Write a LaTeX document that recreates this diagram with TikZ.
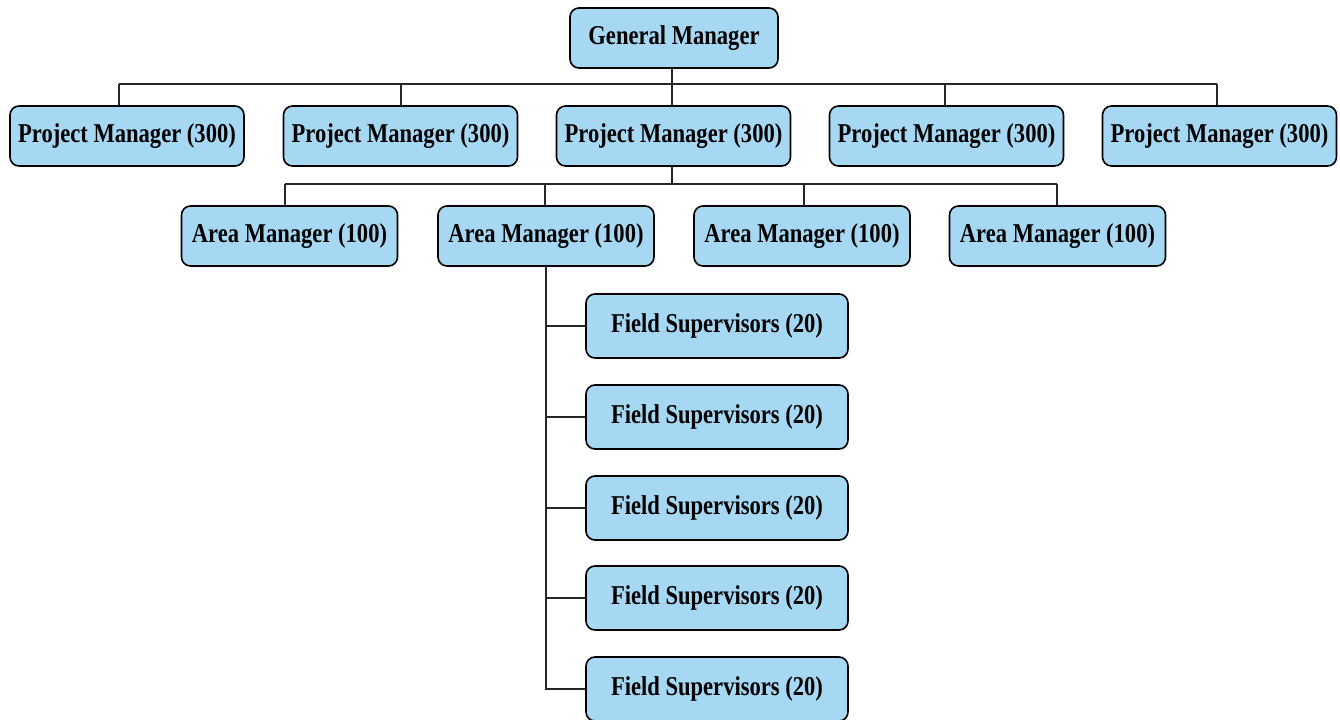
\documentclass[tikz,border=0pt]{standalone}
\usepackage{fontspec}
\setmainfont{Liberation Serif}[FakeStretch=0.83]
\begin{document}
\begin{tikzpicture}[x=0.5pt,y=-0.5pt,
  box/.style={draw=black, line width=0.8pt, rounded corners=4.5pt, fill=boxblue,
    inner sep=0pt, font=\bfseries\fontsize{13.6}{15}\selectfont},
  pm/.style={box, minimum width=117pt, minimum height=30pt},
  am/.style={box, minimum width=108pt, minimum height=30pt},
  fs/.style={box, minimum width=131pt, minimum height=32pt},
  gm/.style={box, minimum width=104pt, minimum height=30pt},
  link/.style={draw=black!85, line width=0.7pt}]
\definecolor{boxblue}{HTML}{A6D8F4}
\useasboundingbox (0,0) rectangle (1340,719);
\node[gm] (gm) at (674,38) {General Manager};
\node[pm] (pm1) at (127,136) {Project Manager (300)};
\node[pm] (pm2) at (400.5,136) {Project Manager (300)};
\node[pm] (pm3) at (673.5,136) {Project Manager (300)};
\node[pm] (pm4) at (946.5,136) {Project Manager (300)};
\node[pm] (pm5) at (1219.5,136) {Project Manager (300)};
\node[am] (am1) at (289.5,236) {Area Manager (100)};
\node[am] (am2) at (546,236) {Area Manager (100)};
\node[am] (am3) at (802,236) {Area Manager (100)};
\node[am] (am4) at (1057.5,236) {Area Manager (100)};
\node[fs] (fs1) at (717,326) {Field Supervisors (20)};
\node[fs] (fs2) at (717,417) {Field Supervisors (20)};
\node[fs] (fs3) at (717,508) {Field Supervisors (20)};
\node[fs] (fs4) at (717,598) {Field Supervisors (20)};
\node[fs] (fs5) at (717,689) {Field Supervisors (20)};
% bus lines
\coordinate (b1) at (119,84);
\coordinate (b3) at (672,84);
\coordinate (b5) at (1217,84);
\path[link] (b3 |- gm.south) -- (b3);
\path[link] (b1) -- (b5);
\path[link] (b1) -- (b1 |- pm1.north);
\path[link] (401,84) -- (401,106);
\path[link] (b3) -- (b3 |- pm3.north);
\path[link] (945,84) -- (945,106);
\path[link] (b5) -- (b5 |- pm5.north);
\coordinate (a1) at (285,184);
\coordinate (a4) at (1057,184);
\path[link] (b3 |- pm3.south) -- (b3 |- a1);
\path[link] (a1) -- (a4);
\path[link] (a1) -- (a1 |- am1.north);
\path[link] (545,184) -- (545,206);
\path[link] (804,184) -- (804,206);
\path[link] (a4) -- (a4 |- am4.north);
\coordinate (t) at (546,266);
\path[link] (t) |- (fs5.west);
\foreach \i in {1,...,4} \path[link] (t |- fs\i.west) -- (fs\i.west);
\end{tikzpicture}
\end{document}
